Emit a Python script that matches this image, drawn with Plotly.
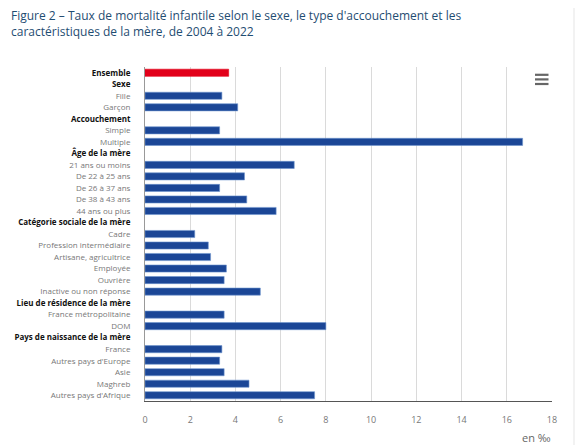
import plotly.graph_objects as go

categories = [
    "Ensemble", "Sexe", "Fille", "Garçon", "Accouchement", "Simple", "Multiple",
    "Âge de la mère", "21 ans ou moins", "De 22 à 25 ans", "De 26 à 37 ans",
    "De 38 à 43 ans", "44 ans ou plus", "Catégorie sociale de la mère", "Cadre",
    "Profession intermédiaire", "Artisane, agricultrice", "Employée", "Ouvrière",
    "Inactive ou non réponse", "Lieu de résidence de la mère", "France métropolitaine",
    "DOM", "Pays de naissance de la mère", "France", "Autres pays d'Europe", "Asie",
    "Maghreb", "Autres pays d'Afrique",
]
headers = ["Ensemble", "Sexe", "Accouchement", "Âge de la mère",
           "Catégorie sociale de la mère", "Lieu de résidence de la mère",
           "Pays de naissance de la mère"]
values = [
    3.7, None, 3.4, 4.1, None, 3.3, 16.7,
    None, 6.6, 4.4, 3.3, 4.5, 5.8, None, 2.2,
    2.8, 2.9, 3.6, 3.5, 5.1, None, 3.5,
    8.0, None, 3.4, 3.3, 3.5, 4.6, 7.5,
]
x_ticks = [0, 2, 4, 6, 8, 10, 12, 14, 16, 18]

RED = "#e2001a"
BLUE = "#1b4696"
colors = [RED if c == "Ensemble" else BLUE for c in categories]
outline = [RED if c == "Ensemble" else "#6f95cf" for c in categories]

ticktext = [
    f"<b><span style='color:#111'>{c}</span></b>" if c in headers else f"<span style='color:#777'>{c}</span>"
    for c in categories
]

fig = go.Figure(go.Bar(
    x=values, y=categories, orientation="h",
    marker=dict(color=colors, line=dict(color=outline, width=0.6)),
    hoverinfo="x+y",
))

# page is offset by the 8px body margin
OFF = 8
W, H = 583 - OFF, 445 - OFF
L = 145 - OFF
T = 67 - OFF
PW = 407
PB = 401 - OFF
R = W - L - PW
B = H - PB
pw, ph = PW, PB - T

def px(xp):  # page pixel -> paper
    return (xp - OFF - L) / pw

def py(yp):
    return (PB - (yp - OFF)) / ph

shapes = [
    dict(type="rect", xref="paper", yref="paper", x0=px(573), x1=px(583),
         y0=py(445), y1=py(8), fillcolor="#f2f2f2", line=dict(width=0), layer="above"),
]
for yy in (74.8, 79.4, 84.0):
    shapes.append(dict(type="line", xref="paper", yref="paper", x0=px(535), x1=px(548.5),
                       y0=py(yy), y1=py(yy), line=dict(color="#666666", width=2.2)))

fig.update_layout(
    width=W, height=H,
    margin=dict(l=L, r=R, t=T, b=B, autoexpand=False),
    paper_bgcolor="white", plot_bgcolor="white",
    font=dict(family="Open Sans", size=8, color="#666"),
    showlegend=False,
    bargap=0.38,
    xaxis=dict(
        range=[0, 18], tickvals=x_ticks, ticktext=[str(v) for v in x_ticks],
        showgrid=True, gridcolor="#dadada", gridwidth=1,
        showline=True, linecolor="#555", linewidth=1,
        zeroline=False, ticks="", ticklabelstandoff=10,
        tickfont=dict(size=9, color="#777"),
        fixedrange=True, automargin=False,
    ),
    yaxis=dict(
        categoryorder="array", categoryarray=categories,
        tickvals=categories, ticktext=ticktext,
        autorange="reversed",
        showgrid=False, showline=True, linecolor="#999", linewidth=1,
        ticks="", ticklabelstandoff=12,
        tickfont=dict(size=8),
        fixedrange=True, automargin=False,
    ),
    shapes=shapes,
    annotations=[
        dict(text="Figure 2 – Taux de mortalité infantile selon le sexe, le type d'accouchement et les<br>caractéristiques de la mère, de 2004 à 2022",
             xref="paper", yref="paper", x=px(9), y=py(5), xanchor="left", yanchor="top",
             align="left", showarrow=False,
             font=dict(family="Open Sans", size=12, color="#1f4d72")),
        dict(text="en ‰", xref="paper", yref="paper", x=px(553), y=py(437),
             xanchor="right", yanchor="middle", showarrow=False,
             font=dict(size=11, color="#666")),
    ],
)

fig.write_html("out.html", config={"displayModeBar": False})
